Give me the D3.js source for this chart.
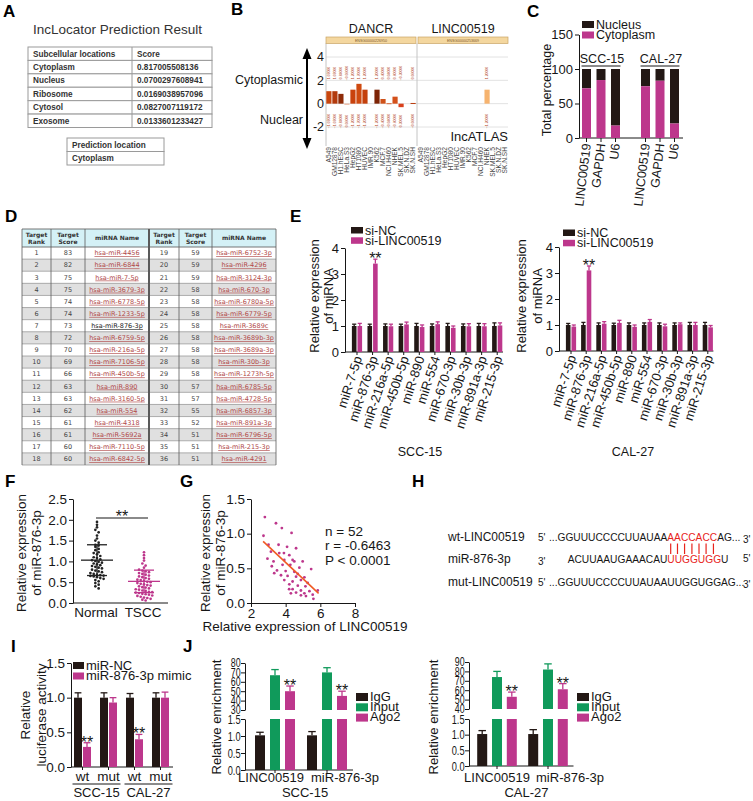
<!DOCTYPE html>
<html>
<head>
<meta charset="utf-8">
<script src="https://cdn.jsdelivr.net/npm/d3@7/dist/d3.min.js"></script>
<style>
html,body{margin:0;padding:0;background:#fff;}
svg{display:block;}
</style>
</head>
<body>
<svg id="fig" width="753" height="801" viewBox="0 0 753 801"></svg>
<script>
// ================= DATA =================
// A
const aHeader = ["Subcellular locations", "Score"];
const aLocations = ["Cytoplasm", "Nucleus", "Ribosome", "Cytosol", "Exosome"];
const aScores = ["0.817005508136", "0.0700297608941", "0.0169038957096", "0.0827007119172", "0.0133601233427"];
const aPredHeader = "Prediction location";
const aPrediction = "Cytoplasm";
// B
const bGenes = ["DANCR", "LINC00519"];
const bGeneIds = ["ENSG00000226950", "ENSG00000253669"];
const bCellLines = ["A549","GM12878","H1.hESC","HeLa.S3","HepG2","HT1080","HUVEC","IMR.90","K562","MCF.7","NCI.H460","NHEK","SK.MEL.5","SK.N.DZ","SK.N.SH"];
const bDANCR = [1.07, 1.07, 0.84, -0.06, 1.2, 1.7, 1.2, null, 1.2, 0.4, 0.04, 0.6, -0.3, null, 0.06];
const bLINC00519 = [null, null, null, null, null, null, null, null, null, null, null, 1.2, null, null, null];
const bTicks = [4, 2, 0, -2];
// C
const cGroups = ["SCC-15", "CAL-27"];
const cGenes = ["LINC00519", "GAPDH", "U6"];
const cSeries = ["Nucleus", "Cytoplasm"];
const cCytoSCC15 = [72, 84, 18];
const cCytoCAL27 = [75, 83, 21];
const cTicks = [0, 50, 100, 150];
// D
const dHeaders = [["Target", "Rank"], ["Target", "Score"], ["miRNA Name"]];
const dRank = [1,2,3,4,5,6,7,8,9,10,11,12,13,14,15,16,17,18,19,20,21,22,23,24,25,26,27,28,29,30,31,32,33,34,35,36];
const dScore = [83,82,75,75,74,74,73,72,70,69,66,63,63,62,61,61,60,60,59,59,59,58,58,58,58,58,58,58,58,57,57,55,52,51,51,51];
const dName = ["hsa-miR-4456","hsa-miR-6844","hsa-miR-7-5p","hsa-miR-3679-3p","hsa-miR-6778-5p","hsa-miR-1233-5p","hsa-miR-876-3p","hsa-miR-6759-5p","hsa-miR-216a-5p","hsa-miR-7106-5p","hsa-miR-450b-5p","hsa-miR-890","hsa-miR-3160-5p","hsa-miR-554","hsa-miR-4318","hsa-miR-5692a","hsa-miR-7110-5p","hsa-miR-6842-5p",
  "hsa-miR-6752-3p","hsa-miR-4296","hsa-miR-3124-3p","hsa-miR-670-3p","hsa-miR-6780a-5p","hsa-miR-6779-5p","hsa-miR-3689c","hsa-miR-3689b-3p","hsa-miR-3689a-3p","hsa-miR-30b-3p","hsa-miR-1273h-5p","hsa-miR-6785-5p","hsa-miR-4728-5p","hsa-miR-6857-3p","hsa-miR-891a-3p","hsa-miR-6796-5p","hsa-miR-215-3p","hsa-miR-4291"];
// E
const eMiRNAs = ["miR-7-5p","miR-876-3p","miR-216a-5p","miR-450b-5p","miR-890","miR-554","miR-670-3p","miR-30b-3p","miR-891a-3p","miR-215-3p"];
const eSeries = ["si-NC", "si-LINC00519"];
const eTicks = [0, 1, 2, 3, 4];
const eSCC_NC = [1, 1, 1, 1, 1, 1, 1, 1, 1, 1];
const eSCC_NCerr = [0.07, 0.07, 0.08, 0.07, 0.1, 0.08, 0.1, 0.08, 0.1, 0.12];
const eSCC_si = [1.0, 3.4, 0.99, 1.06, 0.96, 1.07, 0.93, 0.99, 0.99, 1.02];
const eSCC_siErr = [0.1, 0.17, 0.08, 0.09, 0.08, 0.09, 0.07, 0.1, 0.1, 0.1];
const eCAL_NC = [1, 1, 1, 1, 1, 1, 1, 1, 1, 1];
const eCAL_NCerr = [0.06, 0.1, 0.08, 0.07, 0.08, 0.08, 0.08, 0.08, 0.1, 0.1];
const eCAL_si = [0.94, 3.1, 1.05, 1.08, 0.93, 1.12, 0.95, 1.03, 1.0, 0.91];
const eCAL_siErr = [0.06, 0.17, 0.08, 0.1, 0.07, 0.09, 0.08, 0.05, 0.1, 0.07];
// F
const fGroups = ["Normal", "TSCC"];
const fTicks = [0, 0.5, 1.0, 1.5, 2.0, 2.5];
const fNormal = [1.95,1.88,1.82,1.76,1.70,1.62,1.55,1.50,1.45,1.40,1.38,1.35,1.30,1.27,1.22,1.20,1.17,1.13,1.10,1.08,1.05,1.03,1.01,0.99,0.97,0.95,0.93,0.91,0.89,0.87,0.85,0.83,0.80,0.78,0.76,0.74,0.72,0.70,0.68,0.67,0.66,0.65,0.64,0.62,0.60,0.58,0.55,0.52,0.48,0.44,0.40,0.35];
const fTSCC = [1.22,1.15,1.08,1.02,0.95,0.90,0.85,0.80,0.78,0.76,0.74,0.72,0.70,0.68,0.66,0.64,0.62,0.60,0.58,0.56,0.55,0.53,0.51,0.50,0.48,0.46,0.45,0.43,0.42,0.40,0.38,0.37,0.35,0.33,0.32,0.30,0.29,0.27,0.26,0.25,0.24,0.22,0.21,0.20,0.18,0.17,0.15,0.13,0.12,0.10,0.08,0.06];
const fMean = [1.03, 0.52];
const fSDlow = [0.66, 0.25];
const fSDhigh = [1.40, 0.79];
// G
const gX = [2.80,3.44,3.78,4.34,2.72,3.01,3.59,4.08,4.60,3.15,3.63,4.21,2.95,3.92,4.40,4.50,4.98,3.20,3.82,4.27,4.79,5.47,3.34,3.73,4.11,4.60,5.08,3.92,4.40,4.88,5.27,4.21,4.70,5.14,4.40,4.88,5.37,4.60,5.08,5.56,4.88,5.85,5.17,4.30,3.30,3.50,4.00,4.50,3.90,4.70,5.60,4.20];
const gY = [1.24,1.15,1.08,1.01,0.97,0.84,0.84,0.81,0.79,0.74,0.72,0.69,0.64,0.62,0.62,0.60,0.60,0.53,0.55,0.55,0.51,0.49,0.43,0.40,0.39,0.38,0.37,0.33,0.31,0.33,0.29,0.27,0.25,0.24,0.20,0.18,0.17,0.15,0.14,0.12,0.11,0.18,0.10,0.14,0.60,0.47,0.46,0.45,0.72,0.42,0.06,0.20];
const gFitX = [2.7, 5.9];
const gFitY = [0.89, 0.14];
const gXTicks = [2, 4, 6, 8];
const gYTicks = [0, 0.5, 1.0, 1.5];
const gStats = ["n = 52", "r = -0.6463", "P < 0.0001"];
// H
const hLabels = ["wt-LINC00519", "miR-876-3p", "mut-LINC00519"];
const hWt = ["...GGUUUCCCCUUAUAA", "AACCACC", "AG..."];
const hMiR = ["ACUUAAUGAAACAU", "UUGGUGG", "U"];
const hMut = "...GGUUUCCCCUUAUAAUUGGUGGAG...";
const hEnds = [["5'", "3'"], ["3'", "5'"], ["5'", "3'"]];
// I
const iSeries = ["miR-NC", "miR-876-3p mimic"];
const iConstructs = ["wt", "mut", "wt", "mut"];
const iCells = ["SCC-15", "CAL-27"];
const iNC = [1.0, 1.0, 1.0, 1.0];
const iNCerr = [0.07, 0.07, 0.06, 0.07];
const iMimic = [0.29, 0.93, 0.40, 1.0];
const iMimicErr = [0.06, 0.07, 0.07, 0.08];
const iTicks = [0, 0.5, 1.0, 1.5];
// J
const jGroups = ["LINC00519", "miR-876-3p"];
const jSeries = ["IgG", "Input", "Ago2"];
const jLowTicks = [0, 0.5, 1.0, 1.5];
const jSCC_IgG = [1.02, 1.02], jSCC_IgGerr = [0.09, 0.11];
const jSCC_Input = [67, 70], jSCC_InputErr = [6, 5];
const jSCC_Ago2 = [50, 45], jSCC_Ago2Err = [5.5, 5];
const jSCC_UpTicks = [30, 40, 50, 60, 70, 80];
const jCAL_IgG = [1.02, 1.02], jCAL_IgGerr = [0.11, 0.14];
const jCAL_Input = [74, 82], jCAL_InputErr = [6, 6];
const jCAL_Ago2 = [53, 61], jCAL_Ago2Err = [5, 6];
const jCAL_UpTicks = [40, 50, 60, 70, 80, 90];

// ================= DRAWING =================
const svg = d3.select("#fig");
const FONT = "'Liberation Sans', Arial, Helvetica, sans-serif";
const INK = "#161616", BLK = "#231815", MAG = "#bd378c", GRN = "#109a5b", RED = "#e8231b";
svg.attr("font-family", FONT);

function txt(g, x, y, s, o = {}) {
  const t = g.append("text").text(s)
    .attr("font-size", o.size || 12.5)
    .attr("fill", o.fill || INK)
    .attr("text-anchor", o.anchor || "start");
  if (o.rotate != null) t.attr("transform", `translate(${x},${y}) rotate(${o.rotate})`);
  else t.attr("x", x).attr("y", y);
  if (o.weight) t.attr("font-weight", o.weight);
  if (o.family) t.attr("font-family", o.family);
  if (o.dy) t.attr("dy", o.dy);
  if (o.deco) t.attr("text-decoration", o.deco);
  return t;
}
function line(g, x1, y1, x2, y2, stroke = INK, w = 1) {
  return g.append("line").attr("x1", x1).attr("y1", y1).attr("x2", x2).attr("y2", y2)
    .attr("stroke", stroke).attr("stroke-width", w);
}
function rect(g, x, y, w, h, fill, stroke, sw) {
  const r = g.append("rect").attr("x", x).attr("y", y).attr("width", w).attr("height", h).attr("fill", fill);
  if (stroke) r.attr("stroke", stroke).attr("stroke-width", sw || 1);
  return r;
}
function styleAxis(a, size) {
  a.attr("font-family", FONT).attr("font-size", size);
  a.selectAll(".domain").attr("stroke", INK);
  a.selectAll(".tick line").attr("stroke", INK);
  a.selectAll(".tick text").attr("fill", INK);
  return a;
}
function leftAxis(g, scale, x, ticks, fmt, size, squeeze) {
  const a = g.append("g").attr("transform", `translate(${x},0)`)
    .call(d3.axisLeft(scale).tickValues(ticks).tickFormat(fmt).tickSize(4).tickSizeOuter(0).tickPadding(2));
  styleAxis(a, size);
  if (squeeze) a.selectAll(".tick text").attr("transform", `scale(${squeeze},1)`);
  return a;
}
function stars(g, x, yTop) { return txt(g, x, yTop + 5, "**", { anchor: "middle", size: 16 }); }
function errBar(g, cx, yVal, yTop, color, cap) {
  line(g, cx, yVal, cx, yTop, color, 1.3);
  line(g, cx - cap / 2, yTop, cx + cap / 2, yTop, color, 1.3);
}
function vTitle(g, x, y, s, size) { return txt(g, x, y, s, { rotate: -90, anchor: "middle", size: size || 13, dy: "0.35em" }); }

// ---- panel letters ----
[["A", 3, 17], ["B", 231, 15], ["C", 527, 17], ["D", 5, 222], ["E", 290, 222],
 ["F", 5, 487], ["G", 180, 487], ["H", 412, 487], ["I", 11, 652], ["J", 183, 652]]
  .forEach(([s, x, y]) => txt(svg, x, y, s, { size: 17, weight: "bold", fill: "#000" }));

// ---- A ----
{
  const g = svg.append("g");
  txt(g, 117.5, 34, "IncLocator Prediction Result", { anchor: "middle", size: 13.5, fill: "#333" });
  const rows = [aHeader, ...aLocations.map((l, i) => [l, aScores[i]])];
  const yR = d3.scaleBand().domain(d3.range(rows.length)).range([47, 127.5]);
  rows.forEach((r, i) => {
    rect(g, 28, yR(i), 184, yR.bandwidth(), "#fff", "#9a9a9a");
    const cy = yR(i) + yR.bandwidth() / 2;
    txt(g, 33, cy, r[0], { size: 8.2, weight: "bold", dy: "0.35em", fill: "#333" });
    txt(g, 137, cy, r[1], { size: 8.2, weight: "bold", dy: "0.35em", fill: "#333" });
  });
  line(g, 132, 47, 132, 127.5, "#9a9a9a");
  const y2 = d3.scaleBand().domain([0, 1]).range([138, 165]);
  [aPredHeader, aPrediction].forEach((s, i) => {
    rect(g, 67, y2(i), 97, y2.bandwidth(), "#fff", "#9a9a9a");
    txt(g, 72, y2(i) + y2.bandwidth() / 2, s, { size: 8.2, weight: "bold", dy: "0.35em", fill: "#333" });
  });
}

// ---- B ----
{
  const g = svg.append("g");
  const yB = d3.scaleLinear().domain([-2, 4]).range([127, 57]);
  const ranges = [[326, 416], [418, 508]];
  const colsD = ["#c8460e","#b23a0c","#8e2b08","#e9a68a","#c9420d","#cf4a10","#c4400c","#c4400c","#7d2406","#cf5119","#d86030","#d4501a","#d9401c","#c84010","#b83a0c"];
  bTicks.forEach(t => line(g, 326, yB(t), 508, yB(t), "#e2e2e2", 1));
  line(g, 326, 43, 326, 146, "#c4c4c4");
  line(g, 417, 43, 417, 146, "#c4c4c4");
  bTicks.forEach(t => txt(g, 324, yB(t), String(t), { anchor: "end", size: 12.5, dy: "0.35em" }));
  line(g, 307, 56, 307, 141, "#000", 2);
  g.append("path").attr("d", "M302.5,59 L307,48 L311.5,59 Z").attr("fill", "#000");
  g.append("path").attr("d", "M302.5,138 L307,149 L311.5,138 Z").attr("fill", "#000");
  txt(g, 303, 84, "Cytoplasmic", { anchor: "end", size: 12.5 });
  txt(g, 303, 124, "Nuclear", { anchor: "end", size: 12.5 });
  const vals = [bDANCR, bLINC00519];
  bGenes.forEach((gene, p) => {
    const [x0, x1] = ranges[p];
    rect(g, x0, 37, x1 - x0, 6.5, "#f4d79f", "#c9a466", 0.7);
    txt(g, (x0 + x1) / 2, 41.6, bGeneIds[p], { anchor: "middle", size: 3.6, fill: "#7a5a2a" });
    txt(g, (x0 + x1) / 2, 33, gene, { anchor: "middle", size: 12.5 });
    const xb = d3.scaleBand().domain(bCellLines).range([x0, x1]).paddingInner(0.14).paddingOuter(0.05);
    bCellLines.forEach((cl, i) => {
      const cx = xb(cl) + xb.bandwidth() / 2;
      txt(g, cx, 147, cl, { anchor: "end", size: 6.6, rotate: -90, dy: "0.35em", fill: "#444" });
      const v = vals[p][i];
      if (v == null) return;
      const ya = yB(Math.max(0, v)), yb = yB(Math.min(0, v));
      const col = p === 0 ? colsD[i] : "#f6b36f";
      rect(g, xb(cl), ya, xb.bandwidth(), Math.max(1, yb - ya), col);
      txt(g, cx, 73, d3.format(".5f")(v), { anchor: "middle", size: 3.4, rotate: -90, dy: "0.35em", fill: "#b4492a" });
      txt(g, cx, 121, d3.format(".5f")(-v), { anchor: "middle", size: 3.4, rotate: -90, dy: "0.35em", fill: "#b4492a" });
    });
  });
  txt(g, 508, 141, "IncATLAS", { anchor: "end", size: 13 });
}

// ---- C ----
{
  const g = svg.append("g");
  const y = d3.scaleLinear().domain([0, 150]).range([138, 34.5]);
  const xg = d3.scaleBand().domain(cGroups).range([571.5, 689.5]);
  const xi = d3.scaleBand().domain(cGenes).range([-21.75, 21.75]);
  leftAxis(g, y, 579, cTicks, d3.format("d"), 13);
  line(g, 579, 138, 683, 138);
  const cyto = [cCytoSCC15, cCytoCAL27];
  const bw = 9;
  cGroups.forEach((grp, gi) => {
    const gc = xg(grp) + xg.bandwidth() / 2;
    line(g, gc - 19.5, 66, gc + 19.5, 66, INK, 1);
    txt(g, gc + 1, 63, grp, { anchor: "middle", size: 12.5 });
    cGenes.forEach((gene, k) => {
      const cx = gc + xi(gene) + xi.bandwidth() / 2;
      const c = cyto[gi][k];
      rect(g, cx - bw / 2, y(100), bw, y(c) - y(100), BLK);
      rect(g, cx - bw / 2, y(c), bw, y(0) - y(c), MAG);
      line(g, cx, 138, cx, 142);
      txt(g, cx, 143.5, gene, { anchor: "end", size: 12.5, rotate: -83, dy: "0.35em" });
    });
  });
  [BLK, MAG].forEach((col, k) => {
    rect(g, 582, 21 + k * 10.5, 12, 7, col);
    txt(g, 596, 28.5 + k * 10.5, cSeries[k], { size: 12.5 });
  });
  vTitle(g, 547, 90, "Total percentage", 12.5);
}

// ---- D ----
{
  const g = svg.append("g");
  const DF = "'DejaVu Sans', Verdana, sans-serif";
  const cols = [22, 51, 85, 149, 179, 212, 276];
  const yR = d3.scaleBand().domain(d3.range(18)).range([247, 465]);
  for (let h = 0; h < 2; h++) {
    for (let c = 0; c < 3; c++) {
      const x0 = cols[h * 3 + c], x1 = cols[h * 3 + c + 1];
      rect(g, x0, 229, x1 - x0, 18, "#d4f1f6");
      const ls = dHeaders[c];
      ls.forEach((s, k) => txt(g, (x0 + x1) / 2, 238 + (k - (ls.length - 1) / 2) * 7, s,
        { anchor: "middle", size: 6, weight: "bold", family: DF, fill: "#333", dy: "0.35em" }));
    }
  }
  for (let i = 0; i < 36; i++) {
    const h = i < 18 ? 0 : 1, r = i % 18;
    const y0 = yR(r), bh = yR.bandwidth(), cy = y0 + bh / 2;
    rect(g, cols[h * 3], y0, cols[h * 3 + 3] - cols[h * 3], bh, r % 2 === 1 ? "#e0e0e0" : "#fff");
    txt(g, (cols[h * 3] + cols[h * 3 + 1]) / 2, cy, String(dRank[i]), { anchor: "middle", size: 6.5, family: DF, fill: "#444", dy: "0.35em" });
    txt(g, (cols[h * 3 + 1] + cols[h * 3 + 2]) / 2, cy, String(dScore[i]), { anchor: "middle", size: 6.5, family: DF, fill: "#444", dy: "0.35em" });
    txt(g, (cols[h * 3 + 2] + cols[h * 3 + 3]) / 2, cy, dName[i], { anchor: "middle", size: 6.5, family: DF,
      fill: dName[i] === "hsa-miR-876-3p" ? "#222" : "#b04848", dy: "0.35em", deco: "underline" });
  }
  line(g, 22, 229, 276, 229, "#666", 0.9);
  line(g, 22, 247, 276, 247, "#666", 0.9);
  d3.range(18).forEach(r => line(g, 22, yR(r) + yR.bandwidth(), 276, yR(r) + yR.bandwidth(), "#8c8c8c", 0.7));
  cols.forEach((x, k) => line(g, x, 229, x, 465, "#5a5a5a", k === 3 ? 2 : 0.8));
}

// ---- E ----
function drawE(cfg) {
  const g = svg.append("g");
  const y = d3.scaleLinear().domain([0, 4]).range([cfg.y0, cfg.y0 - 104]);
  const x = d3.scaleBand().domain(eMiRNAs).range(cfg.xr);
  leftAxis(g, y, cfg.ax, eTicks, d3.format("d"), 13);
  line(g, cfg.ax, cfg.y0, cfg.xr[1] - 2, cfg.y0);
  const bw = 4.6;
  eMiRNAs.forEach((m, i) => {
    const c = x(m) + x.bandwidth() / 2;
    line(g, c, cfg.y0, c, cfg.y0 + 3);
    txt(g, c + 1, cfg.y0 + 4.5, m, { anchor: "end", size: 13, rotate: -72, dy: "0.35em" });
    [[cfg.nc, cfg.ncErr, BLK, c - 0.5 - bw], [cfg.si, cfg.siErr, MAG, c + 0.5]].forEach(([v, e, col, xb]) => {
      rect(g, xb, y(v[i]), bw, cfg.y0 - y(v[i]), col);
      errBar(g, xb + bw / 2, y(v[i]), y(v[i] + e[i]), col, bw * 0.9);
    });
    if (m === "miR-876-3p") stars(g, c + 0.5 + bw / 2, y(cfg.si[i] + cfg.siErr[i]));
  });
  [BLK, MAG].forEach((col, k) => {
    rect(g, cfg.lx, cfg.ly + k * 10.3, 12, 6.5, col);
    txt(g, cfg.lx + 14, cfg.ly + 7.5 + k * 10.3, eSeries[k], { size: 12.5 });
  });
  vTitle(g, cfg.t1, 296, "Relative expression", 13);
  vTitle(g, cfg.t2, 296, "of miRNA", 13);
  txt(g, cfg.cx, 456, cfg.cell, { anchor: "middle", size: 12.5 });
}
drawE({ y0: 352, ax: 345, xr: [349.2, 505], nc: eSCC_NC, ncErr: eSCC_NCerr, si: eSCC_si, siErr: eSCC_siErr,
  lx: 351, ly: 227, t1: 314, t2: 328, cx: 420, cell: "SCC-15" });
drawE({ y0: 351, ax: 559, xr: [563.4, 715.4], nc: eCAL_NC, ncErr: eCAL_NCerr, si: eCAL_si, siErr: eCAL_siErr,
  lx: 563, ly: 229.5, t1: 521, t2: 537, cx: 633, cell: "CAL-27" });

// ---- F ----
{
  const g = svg.append("g");
  const y = d3.scaleLinear().domain([0, 2.5]).range([603, 499]);
  const x = d3.scalePoint().domain(fGroups).range([97, 144]);
  leftAxis(g, y, 73, fTicks, d3.format(".1f"), 13.5);
  line(g, 73, 603, 168, 603);
  const sets = [fNormal, fTSCC], cols = ["#222", MAG];
  fGroups.forEach((grp, k) => {
    const cx = x(grp);
    txt(g, cx - 1, 617, grp, { anchor: "middle", size: 13.5 });
    const step = 3.3;
    const pts = sets[k].map(v => ({ v, py: y(v) }));
    const bins = d3.group(pts, d => Math.round(d.py / step));
    bins.forEach(arr => arr.forEach((d, j) => {
      g.append("circle").attr("cx", cx + (j - (arr.length - 1) / 2) * step).attr("cy", d.py).attr("r", 1.35).attr("fill", cols[k]);
    }));
    line(g, cx - 16, y(fMean[k]), cx + 16, y(fMean[k]), cols[k], 1.3);
    line(g, cx, y(fSDlow[k]), cx, y(fSDhigh[k]), cols[k], 1.3);
    line(g, cx - 10, y(fSDlow[k]), cx + 10, y(fSDlow[k]), cols[k], 1.3);
    line(g, cx - 10, y(fSDhigh[k]), cx + 10, y(fSDhigh[k]), cols[k], 1.3);
  });
  line(g, 96, 518, 148, 518, INK, 1.2);
  txt(g, 122, 521.5, "**", { anchor: "middle", size: 16 });
  vTitle(g, 21, 553, "Relative expression", 13.5);
  vTitle(g, 36, 553, "of miR-876-3p", 13.5);
}

// ---- G ----
{
  const g = svg.append("g");
  const x = d3.scaleLinear().domain([2, 8]).range([251, 355]);
  const y = d3.scaleLinear().domain([0, 1.5]).range([603, 499]);
  leftAxis(g, y, 251, gYTicks, d3.format(".1f"), 13.5);
  const ax = g.append("g").attr("transform", "translate(0,603)")
    .call(d3.axisBottom(x).tickValues(gXTicks).tickFormat(d3.format("d")).tickSize(4).tickSizeOuter(0).tickPadding(1));
  styleAxis(ax, 13.5);
  gX.forEach((xv, i) => g.append("circle").attr("cx", x(xv)).attr("cy", y(gY[i])).attr("r", 1.4).attr("fill", MAG));
  line(g, x(gFitX[0]), y(gFitY[0]), x(gFitX[1]), y(gFitY[1]), "#f05a24", 1.6);
  gStats.forEach((s, k) => txt(g, 325, 536 + k * 14.3, s, { size: 13.5 }));
  txt(g, 305, 631, "Relative expression of LINC00519", { anchor: "middle", size: 13.5 });
  vTitle(g, 205, 553, "Relative expression", 13.5);
  vTitle(g, 220, 553, "of miR-876-3p", 13.5);
}

// ---- H ----
{
  const g = svg.append("g");
  const ys = [541, 563, 586];
  hLabels.forEach((s, k) => txt(g, 448, ys[k], s, { size: 12 }));
  const SZ = 10.2;
  txt(g, 538, 541, hEnds[0][0], { size: 10 });
  txt(g, 538, 565, hEnds[1][0], { size: 10 });
  txt(g, 538, 586, hEnds[2][0], { size: 10 });
  txt(g, 743, 543, hEnds[0][1], { size: 10 });
  txt(g, 743, 562, hEnds[1][1], { size: 10 });
  txt(g, 743, 588, hEnds[2][1], { size: 10 });
  const wt = g.append("text").attr("x", 549).attr("y", ys[0]).attr("font-size", SZ).attr("fill", INK);
  hWt.forEach((s, k) => wt.append("tspan").text(s).attr("fill", k === 1 ? RED : INK));
  const wNode = wt.node();
  const redStart = 549 + wNode.getSubStringLength(0, hWt[0].length);
  const mi = g.append("text").attr("y", ys[1]).attr("font-size", SZ).attr("fill", INK);
  hMiR.forEach((s, k) => mi.append("tspan").text(s).attr("fill", k === 1 ? RED : INK));
  const w0 = mi.node().getSubStringLength(0, hMiR[0].length);
  mi.attr("x", redStart - w0);
  for (let k = 0; k < hWt[1].length; k++) {
    const e = wNode.getExtentOfChar(hWt[0].length + k);
    const cx = e.x + e.width / 2;
    line(g, cx, 543.5, cx, 554, RED, 1.2);
  }
  g.append("text").attr("x", 549).attr("y", ys[2]).attr("font-size", SZ).attr("fill", INK).text(hMut);
}

// ---- I ----
{
  const g = svg.append("g");
  const y = d3.scaleLinear().domain([0, 1.5]).range([767, 663]);
  const x = d3.scaleBand().domain(d3.range(4)).range([69.5, 173.5]);
  leftAxis(g, y, 71, iTicks, d3.format(".1f"), 13.5);
  line(g, 71, 767, 173, 767);
  const bw = 8;
  iConstructs.forEach((c, i) => {
    const gc = x(i) + x.bandwidth() / 2;
    line(g, gc, 767, gc, 770);
    txt(g, gc, 781, c, { anchor: "middle", size: 13.5 });
    [[iNC, iNCerr, BLK, gc - 8.5], [iMimic, iMimicErr, MAG, gc + 0.5]].forEach(([v, e, col, xb]) => {
      rect(g, xb, y(v[i]), bw, 767 - y(v[i]), col);
      errBar(g, xb + bw / 2, y(v[i]), y(v[i] + e[i]), col, bw * 0.85);
    });
    if (c === "wt") stars(g, gc + 4.5, y(iMimic[i] + iMimicErr[i]));
  });
  iCells.forEach((cell, k) => {
    const a = x(k * 2), b = x(k * 2 + 1) + x.bandwidth();
    line(g, a + 3, 784, b - 1, 784, INK, 1);
    txt(g, (a + b) / 2 + 1, 797, cell, { anchor: "middle", size: 13 });
  });
  [BLK, MAG].forEach((col, k) => {
    rect(g, 73, 662 + k * 10.5, 11, 7, col);
    txt(g, 86, 669.5 + k * 10.5, iSeries[k], { size: 13 });
  });
  vTitle(g, 25, 715, "Relative", 13.5);
  vTitle(g, 41, 715, "luciferase activity", 13.5);
}

// ---- J ----
function drawJ(cfg) {
  const g = svg.append("g");
  const yLow = d3.scaleLinear().domain([0, 1.5]).range([cfg.y0, 719]);
  const yUp = d3.scaleLinear().domain([cfg.upTicks[0], cfg.upTicks[cfg.upTicks.length - 1]]).range([cfg.upBottom, cfg.upTop]);
  leftAxis(g, yLow, cfg.ax, jLowTicks, d3.format(".1f"), 12.5, 0.74);
  leftAxis(g, yUp, cfg.ax, cfg.upTicks, d3.format("d"), 12, 0.74);
  const x = d3.scaleBand().domain(jGroups).range(cfg.xr);
  const xs = d3.scaleBand().domain(jSeries).range([-cfg.half, cfg.half]);
  line(g, cfg.ax, cfg.y0, cfg.xr[1], cfg.y0);
  const yv = v => (v <= 1.5 ? yLow(v) : yUp(v));
  const bw = 10, cols = [BLK, GRN, MAG];
  jGroups.forEach((grp, gi) => {
    const gc = x(grp) + x.bandwidth() / 2;
    line(g, gc, cfg.y0, gc, cfg.y0 + 3);
    txt(g, gc + cfg.lblOff[gi], 782, grp, { anchor: "middle", size: 13 });
    jSeries.forEach((s, si) => {
      const cx = gc + xs(s) + xs.bandwidth() / 2;
      const v = cfg.vals[si][gi], e = cfg.errs[si][gi];
      if (v <= 1.5) {
        rect(g, cx - bw / 2, yLow(v), bw, cfg.y0 - yLow(v), cols[si]);
      } else {
        rect(g, cx - bw / 2, yLow(1.5), bw, cfg.y0 - yLow(1.5), cols[si]);
        rect(g, cx - bw / 2, yUp(v), bw, cfg.upBottom - yUp(v), cols[si]);
      }
      errBar(g, cx, yv(v), yv(v + e), cols[si], bw * 0.75);
      if (s === "Ago2") stars(g, cx, yv(v + e));
    });
  });
  txt(g, (cfg.xr[0] + cfg.xr[1]) / 2 + 4, 797, cfg.cell, { anchor: "middle", size: 13 });
  cols.forEach((col, k) => {
    rect(g, cfg.lx, 693 + k * 10.3, 12, 8, col);
    txt(g, cfg.lx + 14, 700.5 + k * 10.3, jSeries[k], { size: 13 });
  });
  vTitle(g, cfg.tx, 717, "Relative enrichment", 13);
}
drawJ({ ax: 245, y0: 770, upBottom: 710, upTop: 663, upTicks: jSCC_UpTicks, xr: [249, 353], half: 22.5,
  vals: [jSCC_IgG, jSCC_Input, jSCC_Ago2], errs: [jSCC_IgGerr, jSCC_InputErr, jSCC_Ago2Err],
  lx: 356, tx: 216, cell: "SCC-15", lblOff: [-4, 18] });
drawJ({ ax: 469, y0: 766, upBottom: 709, upTop: 662, upTicks: jCAL_UpTicks, xr: [471.5, 573.5], half: 22.2,
  vals: [jCAL_IgG, jCAL_Input, jCAL_Ago2], errs: [jCAL_IgGerr, jCAL_InputErr, jCAL_Ago2Err],
  lx: 577, tx: 433, cell: "CAL-27", lblOff: [0, 22] });
</script>
</body>
</html>
